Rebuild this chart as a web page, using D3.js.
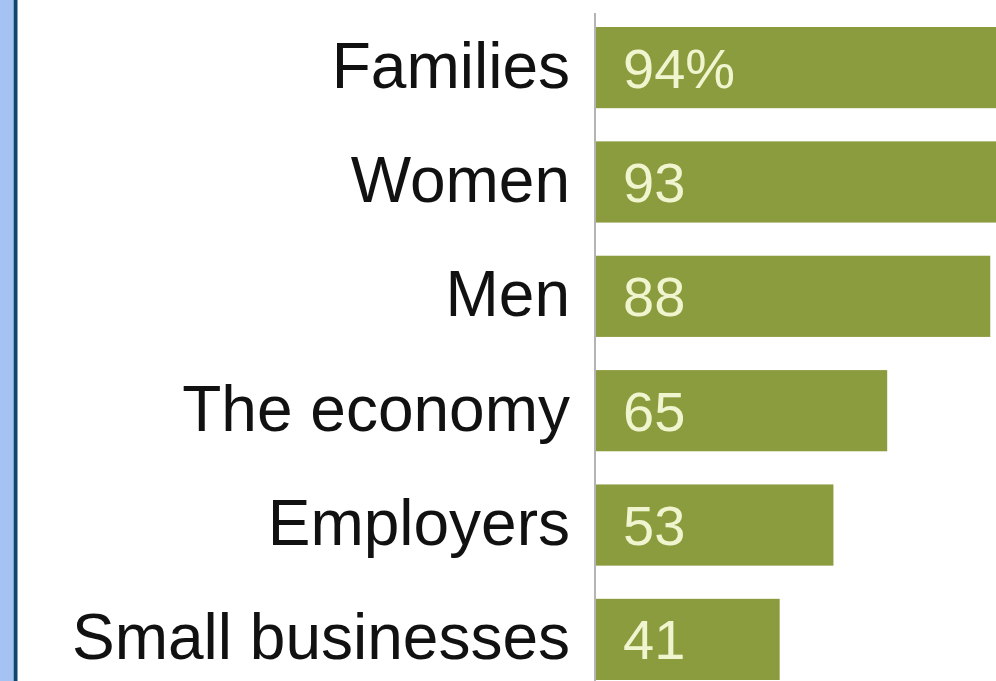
<!DOCTYPE html>
<html>
<head>
<meta charset="utf-8">
<script src="https://cdn.jsdelivr.net/npm/d3@7"></script>
<style>
  html, body { margin: 0; padding: 0; background: #fff; }
  svg { display: block; }
</style>
</head>
<body>
<svg id="chart"></svg>
<script>
const categories = ["Families", "Women", "Men", "The economy", "Employers", "Small businesses"];
const values = [94, 93, 88, 65, 53, 41];
const valueLabels = ["94%", "93", "88", "65", "53", "41"];

const width = 996;
const height = 681;

const svg = d3.select("#chart")
    .attr("width", width)
    .attr("height", height);

// left frame strip
svg.append("rect")
    .attr("x", 0).attr("y", 0)
    .attr("width", 14).attr("height", height)
    .attr("fill", "#a5c3f2");
svg.append("rect")
    .attr("x", 13).attr("y", 0)
    .attr("width", 1).attr("height", height)
    .attr("fill", "#7d9fcc");
svg.append("rect")
    .attr("x", 14).attr("y", 0)
    .attr("width", 3.5).attr("height", height)
    .attr("fill", "#0f466b");

const x = d3.scaleLinear()
    .domain([0, 100])
    .range([596, 1044]);

const y = d3.scaleBand()
    .domain(categories)
    .range([27, 680])
    .paddingInner(0.29)
    .paddingOuter(0);

svg.selectAll("rect.bar")
    .data(values)
    .join("rect")
    .attr("class", "bar")
    .attr("x", x(0))
    .attr("y", (d, i) => y(categories[i]))
    .attr("width", d => x(d) - x(0))
    .attr("height", y.bandwidth())
    .attr("fill", "#8b9c3f");

// vertical axis line
svg.append("line")
    .attr("x1", 595).attr("x2", 595)
    .attr("y1", 13).attr("y2", height)
    .attr("stroke", "#b4b4b4")
    .attr("stroke-width", 2);

// category labels
svg.selectAll("text.cat")
    .data(categories)
    .join("text")
    .attr("class", "cat")
    .attr("x", 570)
    .attr("y", d => y(d) + y.bandwidth() / 2 + 20)
    .attr("text-anchor", "end")
    .attr("font-family", "Liberation Sans, Arial, sans-serif")
    .attr("font-size", "64px")
    .attr("fill", "#111")
    .text(d => d);

// value labels
svg.selectAll("text.val")
    .data(valueLabels)
    .join("text")
    .attr("class", "val")
    .attr("x", x(0) + 27)
    .attr("y", (d, i) => y(categories[i]) + y.bandwidth() / 2 + 20)
    .attr("font-family", "Liberation Sans, Arial, sans-serif")
    .attr("font-size", "56px")
    .attr("fill", "#f0f5cf")
    .text(d => d);
</script>
</body>
</html>
